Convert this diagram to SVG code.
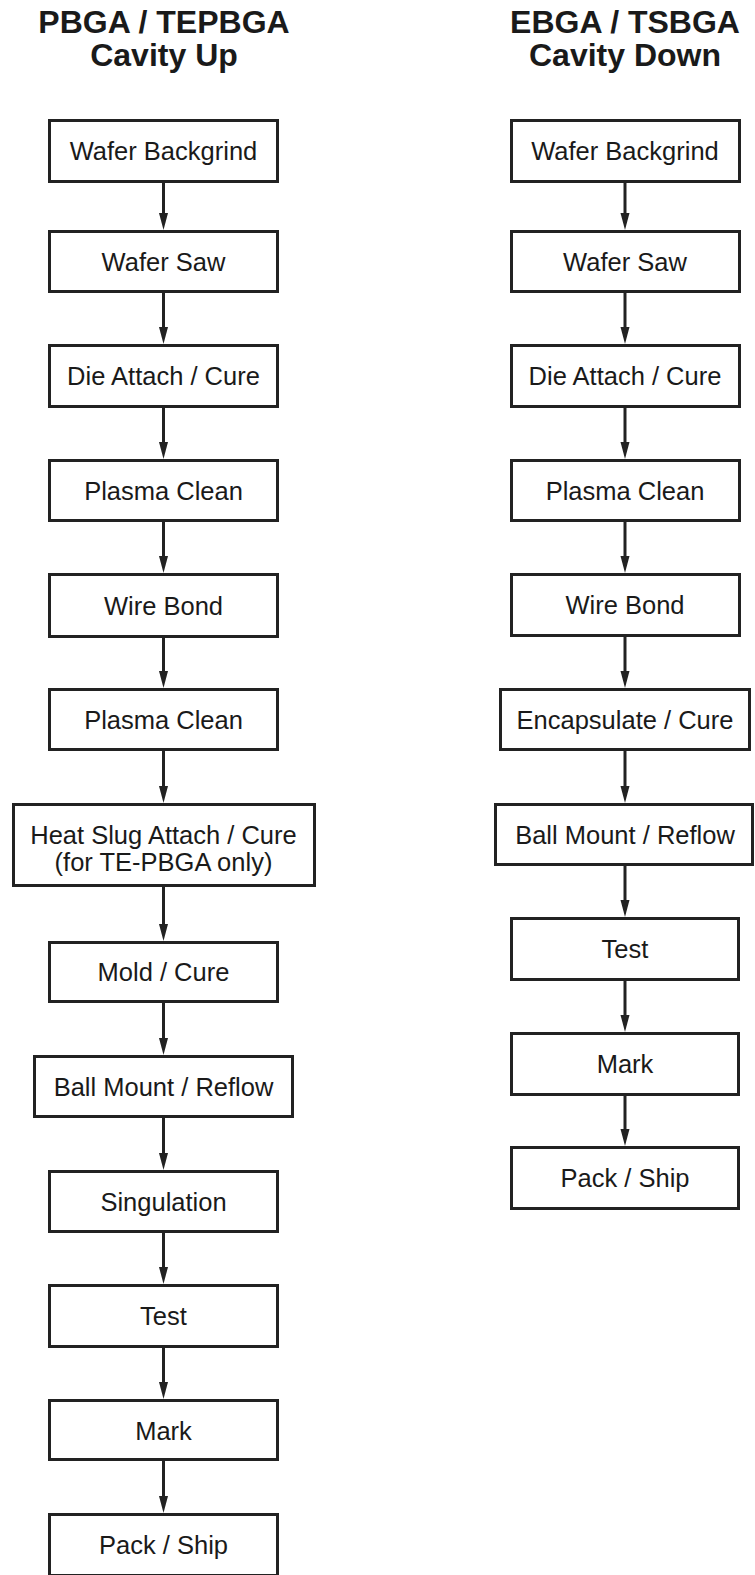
<svg xmlns="http://www.w3.org/2000/svg" width="755" height="1575" viewBox="0 0 755 1575">
<style>
.box{fill:#fff;stroke:#222;stroke-width:3}
.t{font-family:"Liberation Sans",Arial,sans-serif;font-size:25.5px;fill:#1a1a1a;text-anchor:middle}
.h{font-family:"Liberation Sans",Arial,sans-serif;font-size:32px;font-weight:bold;fill:#1a1a1a;text-anchor:middle}
.c{stroke:#222;stroke-width:3;fill:none;marker-end:url(#ah)}
</style>
<defs>
<marker id="ah" markerUnits="userSpaceOnUse" markerWidth="17" markerHeight="10" refX="7" refY="4.5" orient="auto">
<path d="M0,0 L17,4.5 L0,9 Z" fill="#222"/>
</marker>
</defs>
<rect width="755" height="1575" fill="#fff"/>
<g id="title-left">
<text class="h" x="164" y="32.5">PBGA / TEPBGA</text>
<text class="h" x="164" y="66">Cavity Up</text>
</g>
<g id="title-right">
<text class="h" x="625" y="32.5">EBGA / TSBGA</text>
<text class="h" x="625" y="66">Cavity Down</text>
</g>
<g id="connectors">
<line class="c" x1="163.5" y1="183" x2="163.5" y2="220"/>
<line class="c" x1="163.5" y1="293" x2="163.5" y2="334"/>
<line class="c" x1="163.5" y1="408" x2="163.5" y2="449"/>
<line class="c" x1="163.5" y1="522" x2="163.5" y2="563"/>
<line class="c" x1="163.5" y1="638" x2="163.5" y2="678"/>
<line class="c" x1="163.5" y1="751" x2="163.5" y2="793"/>
<line class="c" x1="163.5" y1="887" x2="163.5" y2="931"/>
<line class="c" x1="163.5" y1="1003" x2="163.5" y2="1045"/>
<line class="c" x1="163.5" y1="1118" x2="163.5" y2="1160"/>
<line class="c" x1="163.5" y1="1233" x2="163.5" y2="1274"/>
<line class="c" x1="163.5" y1="1348" x2="163.5" y2="1389"/>
<line class="c" x1="163.5" y1="1461" x2="163.5" y2="1503"/>
<line class="c" x1="625" y1="183" x2="625" y2="220"/>
<line class="c" x1="625" y1="293" x2="625" y2="334"/>
<line class="c" x1="625" y1="408" x2="625" y2="449"/>
<line class="c" x1="625" y1="522" x2="625" y2="563"/>
<line class="c" x1="625" y1="637" x2="625" y2="678"/>
<line class="c" x1="625" y1="751" x2="625" y2="793"/>
<line class="c" x1="625" y1="866" x2="625" y2="907"/>
<line class="c" x1="625" y1="981" x2="625" y2="1022"/>
<line class="c" x1="625" y1="1096" x2="625" y2="1136"/>
</g>
<g id="L1"><rect class="box" x="49.5" y="120.5" width="228" height="61"/><text class="t" x="163.5" y="160">Wafer Backgrind</text></g>
<g id="L2"><rect class="box" x="49.5" y="231.5" width="228" height="60"/><text class="t" x="163.5" y="270.5">Wafer Saw</text></g>
<g id="L3"><rect class="box" x="49.5" y="345.5" width="228" height="61"/><text class="t" x="163.5" y="385">Die Attach / Cure</text></g>
<g id="L4"><rect class="box" x="49.5" y="460.5" width="228" height="60"/><text class="t" x="163.5" y="499.5">Plasma Clean</text></g>
<g id="L5"><rect class="box" x="49.5" y="574.5" width="228" height="62"/><text class="t" x="163.5" y="614.5">Wire Bond</text></g>
<g id="L6"><rect class="box" x="49.5" y="689.5" width="228" height="60"/><text class="t" x="163.5" y="728.5">Plasma Clean</text></g>
<g id="L7"><rect class="box" x="13.5" y="804.5" width="301" height="81"/><text class="t" x="163.5" y="843.5">Heat Slug Attach / Cure</text><text class="t" x="163.5" y="871">(for TE-PBGA only)</text></g>
<g id="L8"><rect class="box" x="49.5" y="942.5" width="228" height="59"/><text class="t" x="163.5" y="981">Mold / Cure</text></g>
<g id="L9"><rect class="box" x="34.5" y="1056.5" width="258" height="60"/><text class="t" x="163.5" y="1095.5">Ball Mount / Reflow</text></g>
<g id="L10"><rect class="box" x="49.5" y="1171.5" width="228" height="60"/><text class="t" x="163.5" y="1210.5">Singulation</text></g>
<g id="L11"><rect class="box" x="49.5" y="1285.5" width="228" height="61"/><text class="t" x="163.5" y="1325">Test</text></g>
<g id="L12"><rect class="box" x="49.5" y="1400.5" width="228" height="59"/><text class="t" x="163.5" y="1439.5">Mark</text></g>
<g id="L13"><rect class="box" x="49.5" y="1514.5" width="228" height="61"/><text class="t" x="163.5" y="1554">Pack / Ship</text></g>
<g id="R1"><rect class="box" x="511.5" y="120.5" width="228" height="61"/><text class="t" x="625" y="160">Wafer Backgrind</text></g>
<g id="R2"><rect class="box" x="511.5" y="231.5" width="228" height="60"/><text class="t" x="625" y="270.5">Wafer Saw</text></g>
<g id="R3"><rect class="box" x="511.5" y="345.5" width="228" height="61"/><text class="t" x="625" y="385">Die Attach / Cure</text></g>
<g id="R4"><rect class="box" x="511.5" y="460.5" width="228" height="60"/><text class="t" x="625" y="499.5">Plasma Clean</text></g>
<g id="R5"><rect class="box" x="511.5" y="574.5" width="228" height="61"/><text class="t" x="625" y="614">Wire Bond</text></g>
<g id="R6"><rect class="box" x="500.5" y="689.5" width="249" height="60"/><text class="t" x="625" y="728.5">Encapsulate / Cure</text></g>
<g id="R7"><rect class="box" x="495.5" y="804.5" width="257" height="60"/><text class="t" x="625" y="843.5">Ball Mount / Reflow</text></g>
<g id="R8"><rect class="box" x="511.5" y="918.5" width="227" height="61"/><text class="t" x="625" y="958">Test</text></g>
<g id="R9"><rect class="box" x="511.5" y="1033.5" width="227" height="61"/><text class="t" x="625" y="1073">Mark</text></g>
<g id="R10"><rect class="box" x="511.5" y="1147.5" width="227" height="61"/><text class="t" x="625" y="1187">Pack / Ship</text></g>
</svg>
